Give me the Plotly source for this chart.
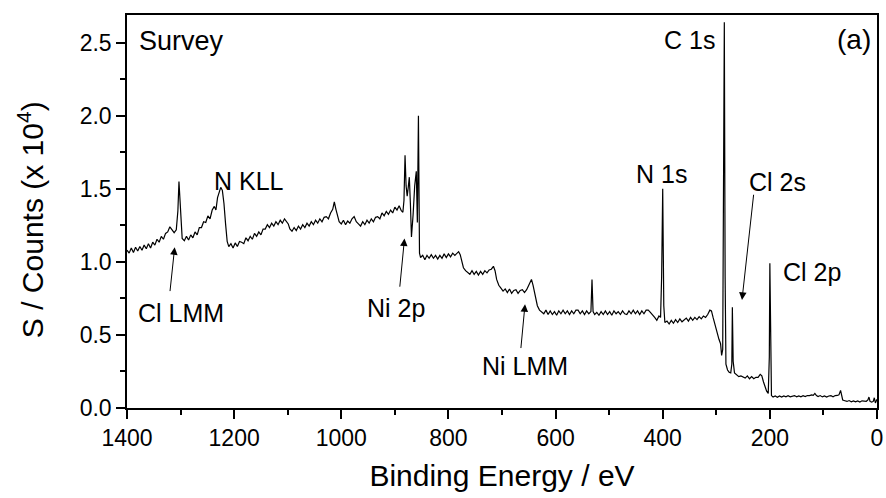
import plotly.graph_objects as go

# Binding energy (eV) and intensity (counts x 10^4)
binding_energy = [
    1400, 1396, 1392, 1388, 1384, 1380, 1376, 1372, 1368, 1364, 1360, 1356, 1352, 1348, 1344, 1340,
    1336, 1332, 1328, 1324, 1320, 1316, 1312, 1308, 1305, 1303, 1301, 1299, 1297, 1293, 1289, 1285,
    1281, 1277, 1273, 1269, 1265, 1261, 1257, 1253, 1249, 1245, 1241, 1237, 1234, 1231, 1228, 1225,
    1222, 1219, 1216, 1213, 1210, 1206, 1202, 1198, 1194, 1190, 1186, 1182, 1178, 1174, 1170, 1166,
    1162, 1158, 1154, 1150, 1146, 1142, 1138, 1134, 1130, 1126, 1122, 1118, 1114, 1110, 1106, 1102,
    1099, 1096, 1092, 1088, 1084, 1080, 1076, 1072, 1068, 1064, 1060, 1056, 1052, 1048, 1044, 1040,
    1036, 1032, 1028, 1024, 1020, 1016, 1013, 1010, 1007, 1004, 1000, 996, 992, 988, 984, 980,
    976, 972, 968, 964, 960, 956, 952, 948, 944, 940, 936, 932, 928, 924, 920, 916,
    912, 908, 904, 900, 896, 892, 888, 885, 883, 881, 879, 877, 875, 873, 871, 869,
    866, 863, 860, 858, 856, 854, 852, 848, 844, 840, 836, 832, 828, 824, 820, 816,
    812, 808, 804, 800, 796, 792, 788, 784, 781, 778, 775, 772, 768, 764, 760, 756,
    752, 748, 744, 740, 736, 732, 728, 724, 720, 716, 713, 710, 706, 702, 698, 694,
    690, 686, 682, 678, 674, 670, 666, 662, 658, 654, 651, 648, 645, 642, 638, 634,
    630, 626, 622, 618, 614, 610, 606, 602, 598, 594, 590, 586, 582, 578, 574, 570,
    566, 562, 558, 554, 550, 546, 542, 538, 534, 532, 530, 527, 523, 519, 515, 511,
    507, 503, 499, 495, 491, 487, 483, 479, 475, 471, 467, 463, 459, 455, 451, 447,
    443, 439, 435, 431, 427, 423, 419, 415, 411, 407, 404, 402, 400, 398, 396, 392,
    388, 384, 380, 376, 372, 368, 364, 360, 356, 352, 348, 344, 340, 336, 332, 328,
    324, 320, 316, 312, 309, 306, 302, 298, 295, 292, 290, 288, 286.5, 285, 283.5, 282,
    279, 276, 273, 271, 270, 268.5, 266, 262, 258, 254, 250, 246, 242, 238, 234, 230,
    226, 222, 218, 215, 212, 209, 206, 203, 201, 200, 198.5, 197, 194, 190, 186, 182,
    178, 174, 170, 166, 162, 158, 154, 150, 146, 142, 138, 134, 130, 126, 122, 119,
    116, 113, 110, 106, 102, 98, 94, 90, 86, 82, 78, 74, 71, 68, 66, 64,
    60, 56, 52, 48, 44, 40, 36, 32, 28, 24, 20, 17, 15, 13, 10, 7,
    5, 3, 1, 0,
]

counts_1e4 = [
    1.08, 1.06, 1.095, 1.065, 1.10, 1.075, 1.105, 1.08, 1.115, 1.09, 1.125, 1.095, 1.135, 1.115, 1.155, 1.135,
    1.175, 1.155, 1.195, 1.205, 1.24, 1.215, 1.20, 1.22, 1.35, 1.55, 1.40, 1.22, 1.16, 1.145, 1.175, 1.15,
    1.185, 1.165, 1.205, 1.185, 1.235, 1.235, 1.275, 1.27, 1.315, 1.295, 1.355, 1.38, 1.355, 1.44, 1.47, 1.51,
    1.49, 1.40, 1.26, 1.14, 1.105, 1.125, 1.095, 1.13, 1.105, 1.14, 1.135, 1.125, 1.165, 1.145, 1.175, 1.155,
    1.195, 1.175, 1.205, 1.185, 1.225, 1.225, 1.255, 1.235, 1.265, 1.245, 1.275, 1.255, 1.285, 1.265, 1.295, 1.275,
    1.26, 1.225, 1.21, 1.235, 1.215, 1.245, 1.225, 1.255, 1.235, 1.265, 1.245, 1.275, 1.255, 1.285, 1.265, 1.295,
    1.275, 1.305, 1.31, 1.295, 1.335, 1.36, 1.41, 1.36, 1.31, 1.275, 1.26, 1.285, 1.255, 1.28, 1.265, 1.295,
    1.31, 1.275, 1.26, 1.245, 1.275, 1.255, 1.285, 1.265, 1.295, 1.275, 1.305, 1.31, 1.295, 1.335, 1.315, 1.345,
    1.325, 1.355, 1.335, 1.375, 1.355, 1.385, 1.35, 1.34, 1.42, 1.73, 1.52, 1.45, 1.51, 1.58, 1.40, 1.17,
    1.32, 1.52, 1.62, 1.27, 2.00, 1.06, 1.03, 1.045, 1.015, 1.045, 1.025, 1.05, 1.025, 1.045, 1.02, 1.045,
    1.025, 1.055, 1.03, 1.055, 1.035, 1.06, 1.045, 1.06, 1.07, 1.05, 1.00, 0.96, 0.94, 0.93, 0.915, 0.94,
    0.915, 0.935, 0.91, 0.935, 0.915, 0.94, 0.925, 0.945, 0.95, 0.97, 0.94, 0.88, 0.84, 0.82, 0.80, 0.815,
    0.79, 0.815, 0.785, 0.805, 0.81, 0.785, 0.805, 0.81, 0.79, 0.81, 0.83, 0.86, 0.88, 0.84, 0.76, 0.70,
    0.67, 0.66, 0.645, 0.67, 0.64, 0.665, 0.64, 0.66, 0.635, 0.665, 0.645, 0.67, 0.645, 0.665, 0.64, 0.665,
    0.645, 0.67, 0.67, 0.645, 0.665, 0.64, 0.665, 0.645, 0.66, 0.88, 0.66, 0.64, 0.655, 0.635, 0.66, 0.64,
    0.665, 0.64, 0.66, 0.635, 0.665, 0.645, 0.66, 0.64, 0.665, 0.645, 0.64, 0.665, 0.645, 0.67, 0.645, 0.665,
    0.64, 0.665, 0.645, 0.67, 0.67, 0.655, 0.64, 0.62, 0.60, 0.63, 0.62, 0.90, 1.50, 0.70, 0.585, 0.595,
    0.575, 0.60, 0.58, 0.605, 0.585, 0.61, 0.59, 0.605, 0.615, 0.595, 0.62, 0.60, 0.62, 0.605, 0.625, 0.61,
    0.63, 0.62, 0.64, 0.67, 0.665, 0.62, 0.56, 0.50, 0.47, 0.44, 0.36, 0.40, 1.40, 2.64, 0.90, 0.30,
    0.26, 0.245, 0.24, 0.30, 0.69, 0.32, 0.24, 0.225, 0.215, 0.22, 0.215, 0.205, 0.22, 0.20, 0.215, 0.20,
    0.21, 0.21, 0.23, 0.22, 0.18, 0.14, 0.115, 0.10, 0.35, 0.99, 0.25, 0.085, 0.075, 0.082, 0.074, 0.083,
    0.075, 0.082, 0.076, 0.084, 0.077, 0.082, 0.085, 0.077, 0.083, 0.076, 0.084, 0.078, 0.085, 0.085, 0.09, 0.087,
    0.10, 0.085, 0.078, 0.085, 0.076, 0.083, 0.075, 0.082, 0.084, 0.077, 0.085, 0.086, 0.09, 0.12, 0.07, 0.055,
    0.05, 0.045, 0.051, 0.043, 0.049, 0.042, 0.048, 0.041, 0.049, 0.05, 0.046, 0.055, 0.075, 0.045, 0.04, 0.045,
    0.07, 0.035, 0.06, 0.06,
]

x_ticks = [1400, 1200, 1000, 800, 600, 400, 200, 0]
y_ticks = [0.0, 0.5, 1.0, 1.5, 2.0, 2.5]

FONT = "Liberation Sans, Arial, sans-serif"

fig = go.Figure()
fig.add_trace(go.Scatter(
    x=binding_energy, y=counts_1e4, mode="lines",
    line=dict(color="black", width=1.2), showlegend=False, hoverinfo="skip",
))

# peak labels (text, x, y, xanchor, size)
labels = [
    ("Survey", 1381, 2.51, "left", 27),
    ("(a)", 7, 2.52, "right", 28),
    ("C 1s", 350, 2.52, "center", 25),
    ("N 1s", 403, 1.60, "center", 25),
    ("Cl 2s", 186, 1.55, "center", 25),
    ("Cl 2p", 122, 0.93, "center", 25),
    ("N KLL", 1173, 1.555, "center", 25),
    ("Cl LMM", 1300, 0.65, "center", 25),
    ("Ni 2p", 897, 0.685, "center", 25),
    ("Ni LMM", 657, 0.29, "center", 25),
]
for t, x, y, xa, s in labels:
    fig.add_annotation(x=x, y=y, text=t, showarrow=False, xanchor=xa, yanchor="middle",
                       font=dict(family=FONT, size=s, color="black"))

# arrows (head x, head y, tail x, tail y)
arrows = [
    (1311, 1.10, 1320, 0.79),
    (882, 1.16, 891, 0.82),
    (657, 0.71, 665, 0.40),
    (252, 0.74, 230, 1.47),
]
for hx, hy, tx, ty in arrows:
    fig.add_annotation(x=hx, y=hy, ax=tx, ay=ty, xref="x", yref="y", axref="x", ayref="y",
                       text="", showarrow=True, arrowhead=2, arrowsize=1.5, arrowwidth=1,
                       arrowcolor="black")

# y-axis title placed as rotated annotation
fig.add_annotation(text="S / Counts (x 10<sup>4</sup>)", xref="paper", yref="paper",
                   x=-0.128, y=0.478, xanchor="center", yanchor="middle", textangle=-90,
                   showarrow=False, font=dict(family=FONT, size=30, color="black"))

fig.update_layout(
    width=886, height=498,
    margin=dict(l=127, r=3, t=15, b=90),
    paper_bgcolor="white", plot_bgcolor="white",
    font=dict(family=FONT, color="black"),
)
fig.update_xaxes(
    range=[1400, 0], tickvals=x_ticks, ticktext=[str(v) for v in x_ticks],
    ticks="outside", ticklen=9, tickwidth=1.5, tickcolor="black",
    minor=dict(dtick=100, ticks="outside", ticklen=5, tickwidth=1.5, tickcolor="black"),
    showline=True, linecolor="black", linewidth=1.5, mirror=True,
    showgrid=False, zeroline=False, ticklabeloverflow="allow",
    tickfont=dict(family=FONT, size=23, color="black"),
    title=dict(text="Binding Energy / eV", font=dict(family=FONT, size=30, color="black"), standoff=15),
)
fig.update_yaxes(
    range=[0, 2.69], tickvals=y_ticks, ticktext=["%.1f" % v for v in y_ticks],
    ticks="outside", ticklen=9, tickwidth=1.5, tickcolor="black",
    minor=dict(dtick=0.25, ticks="outside", ticklen=5, tickwidth=1.5, tickcolor="black"),
    showline=True, linecolor="black", linewidth=1.5, mirror=True,
    showgrid=False, zeroline=False,
    tickfont=dict(family=FONT, size=23, color="black"),
)

fig.write_html("out.html")
